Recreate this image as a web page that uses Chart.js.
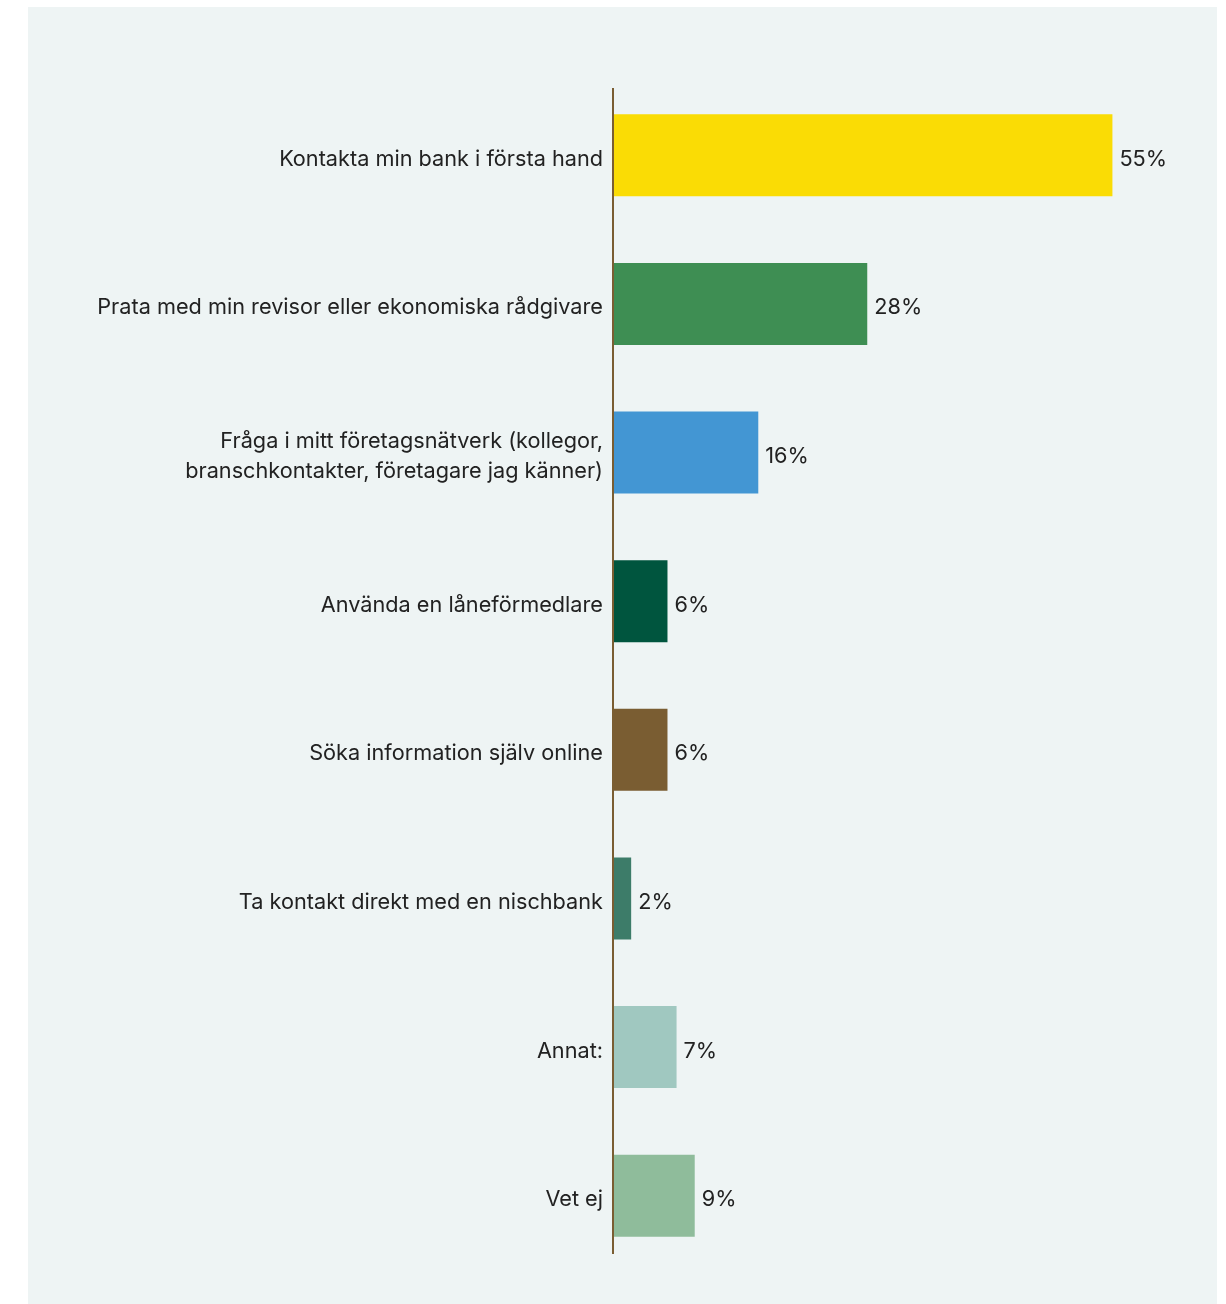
<!DOCTYPE html>
<html lang="sv">
<head>
<meta charset="utf-8">
<title>Var vänder du dig först?</title>
<script src="https://cdn.jsdelivr.net/npm/chart.js@4"></script>
<style>
    html, body { margin: 0; padding: 0; background: #fff; }
    #wrap { width: 1226px; height: 1304px; position: relative; }
</style>
</head>
<body>
<div id="wrap"><canvas id="chart" width="1226" height="1304"></canvas></div>
<script>
const labels = [
    "Kontakta min bank i första hand",
    "Prata med min revisor eller ekonomiska rådgivare",
    ["Fråga i mitt företagsnätverk (kollegor,", "branschkontakter, företagare jag känner)"],
    "Använda en låneförmedlare",
    "Söka information själv online",
    "Ta kontakt direkt med en nischbank",
    "Annat:",
    "Vet ej",
];
const values = [55, 28, 16, 6, 6, 2, 7, 9];
const colors = ["#fadc05", "#3e8e53", "#4396d3", "#00553e", "#7a5d32", "#3d7c69", "#a0c8c0", "#8fbc9b"];

const FONT = "Inter";
const FONT_SIZE = 21.7;

// light panel behind the chart
const panelBg = {
    id: "panelBg",
    beforeDraw(chart) {
        const { ctx } = chart;
        ctx.save();
        ctx.fillStyle = "#fff";
        ctx.fillRect(0, 0, chart.width, chart.height);
        ctx.fillStyle = "#eef4f4";
        ctx.fillRect(28, 7, 1189, chart.height - 7);
        ctx.restore();
    },
};

// vertical base line + value labels
const barExtras = {
    id: "barExtras",
    afterDatasetsDraw(chart) {
        const { ctx, chartArea } = chart;
        ctx.save();
        ctx.strokeStyle = "#7a5d32";
        ctx.lineWidth = 2;
        ctx.beginPath();
        ctx.moveTo(chartArea.left, chartArea.top + 7);
        ctx.lineTo(chartArea.left, chartArea.bottom - 16);
        ctx.stroke();

        ctx.fillStyle = "#222";
        ctx.font = `${FONT_SIZE}px ${FONT}`;
        ctx.textBaseline = "middle";
        ctx.textAlign = "left";
        chart.getDatasetMeta(0).data.forEach((bar, i) => {
            ctx.fillText(`${values[i]}%`, bar.x + 7, bar.y + 4);
        });
        ctx.restore();
    },
};

new Chart(document.getElementById("chart"), {
    type: "bar",
    data: {
        labels: labels,
        datasets: [{
            data: values,
            backgroundColor: colors,
            borderWidth: 0,
            categoryPercentage: 1,
            barPercentage: 0.552,
        }],
    },
    options: {
        indexAxis: "y",
        responsive: false,
        animation: false,
        layout: { padding: { top: 81, bottom: 34, left: 0, right: 70 } },
        plugins: {
            legend: { display: false },
            tooltip: { enabled: false },
        },
        scales: {
            x: {
                display: false,
                min: 0,
                max: 59.8,
            },
            y: {
                grid: { display: false, drawTicks: false },
                border: { display: false },
                afterFit: (scale) => { scale.width = 613; },
                ticks: {
                    color: "#222",
                    padding: 10,
                    labelOffset: 4,
                    font: { family: FONT, size: FONT_SIZE, lineHeight: 1.35 },
                },
            },
        },
    },
    plugins: [panelBg, barExtras],
});
</script>
</body>
</html>
